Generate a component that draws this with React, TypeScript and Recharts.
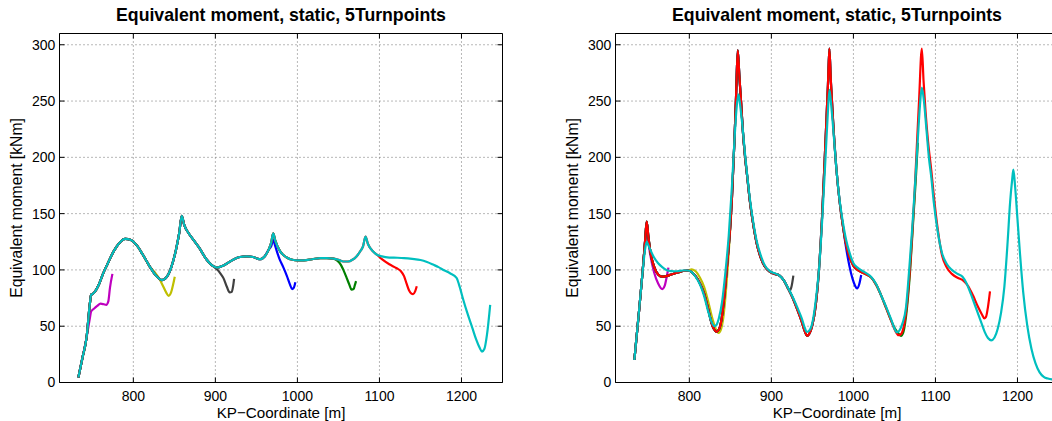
import { LineChart, Line, XAxis, YAxis, CartesianGrid } from "recharts";

type Pt = [number, number]; // [KP-coordinate m, equivalent moment kNm]

const TITLE = "Equivalent moment, static, 5Turnpoints";
const X_LABEL = "KP\u2212Coordinate [m]";
const Y_LABEL = "Equivalent moment [kNm]";

const X_TICKS = [800, 900, 1000, 1100, 1200];
const Y_TICKS = [0, 50, 100, 150, 200, 250, 300];
const X_DOMAIN: [number, number] = [710, 1250];
const Y_DOMAIN: [number, number] = [0, 310];

// MATLAB line colours
const MAGENTA = "#bf00bf";
const YELLOW = "#bfbf00";
const GREY = "#404040";
const BLUE = "#0000ff";
const GREEN = "#008000";
const RED = "#ff0000";
const CYAN = "#00bfbf";

// ---- left panel: the long (cyan) run, shorter runs branch off it ----
const leftCyan: Pt[] = [
  [733, 4.5], [738, 22], [743, 40], [747, 70], [748.5, 78], [750, 78.5], [753, 80.5], [758, 87],
  [763, 96.5], [769, 106], [776, 116.5], [783, 124], [790, 127.5], [797, 126.5], [804, 122],
  [812, 113], [820, 103], [828, 94.5], [835, 91], [841, 94], [847, 104], [852, 118], [856, 133],
  [859, 148], [862, 140], [867, 133], [873, 127], [880, 120], [889, 109.5], [896, 104], [902, 102],
  [910, 104], [918, 107.5], [924, 110], [930, 111.5], [938, 112], [946, 111.5], [951, 110],
  [955, 109.5], [960, 112], [965, 118], [968, 124], [970.5, 132.5], [973, 126], [979, 116.5],
  [987, 111], [994, 109], [1000, 108.5], [1008, 108.5], [1018, 109.5], [1028, 110.5], [1036, 110.5],
  [1044, 110], [1050, 109], [1056, 107.5], [1062, 107.5], [1067, 109], [1072, 112], [1077, 117],
  [1080, 121], [1083, 129.5], [1086, 123], [1092, 116.5], [1097, 113.5], [1103, 112], [1112, 111],
  [1122, 110.8], [1130, 110.5], [1140, 109.8], [1150, 108.8], [1158, 107], [1166, 104.5],
  [1172, 102.5], [1178, 100], [1186, 97], [1194, 93], [1197, 87], [1202, 74], [1207, 62],
  [1213, 49], [1218, 38], [1222, 31], [1225, 27.5], [1228, 30], [1231, 42], [1235, 69],
];
const leftMagentaTail: Pt[] = [
  [747, 57], [748.5, 63], [752, 65.5], [756, 68], [760, 70], [764, 69.5], [767, 69], [769.5, 72],
  [771.5, 84], [774.5, 96.5],
];
const leftYellowTail: Pt[] = [
  [826, 98], [831, 93], [836, 86], [840, 80], [843, 77], [846, 80], [848.5, 87], [850.5, 94],
];
const leftGreyTail: Pt[] = [
  [902, 100.5], [906, 97], [910, 92.5], [914, 85], [917.5, 80], [920, 80.5], [921.5, 85], [922.8, 92],
];
const leftBlueTail: Pt[] = [
  [968, 121], [970.5, 126.5], [973, 121], [978, 110], [983, 102], [987, 95], [991, 87], [993.5, 83],
  [995.5, 84], [997.5, 89],
];
const leftGreenTail: Pt[] = [
  [1049, 108], [1053, 104.5], [1056, 100], [1060, 93], [1063, 87.5], [1066, 82.5], [1068.5, 83],
  [1070, 86.5], [1071.5, 90],
];
const leftRedTail: Pt[] = [
  [1103, 109.5], [1112, 105], [1121, 101.5], [1126, 99], [1130, 94.5], [1133, 88], [1136, 82],
  [1139, 79], [1141, 78.5], [1143.5, 81], [1145.5, 85.5],
];

// ---- right panel: red and cyan runs, the others branch off red ----
const rightRed: Pt[] = [
  [733, 20], [738, 58], [743, 98], [746, 125], [748, 143], [750, 130], [753, 114], [757, 103],
  [762, 96], [767, 94], [772, 94.5], [778, 96], [785, 97.5], [792, 99], [798, 99.5], [803, 98],
  [808, 94], [813, 88], [818, 79], [823, 65], [827, 53], [830, 47.5], [833, 45], [836, 47], [839, 55],
  [842, 72], [846, 104], [849.6, 136], [852, 165], [855, 215], [857, 255], [859, 295], [861, 272],
  [863, 250], [865, 226], [868, 200], [871, 180], [874, 160], [878, 140], [882, 124], [887, 111],
  [892, 103], [898, 98.5], [904, 96.5], [910, 95], [915, 91], [920, 84], [926, 75], [932, 64],
  [937, 54], [941, 45], [943.5, 41.5], [946, 43], [950, 51], [954, 68], [958, 100], [962, 150],
  [966, 215], [969, 265], [970.7, 296.5], [972.5, 268], [975, 235], [979, 192], [983, 162],
  [987, 140], [991, 123], [995, 112], [1000, 103.5], [1005, 100], [1010, 98], [1016, 96], [1022, 93],
  [1028, 86.5], [1034, 77], [1040, 66], [1046, 55], [1051, 46], [1055, 42], [1058, 43], [1062, 52],
  [1066, 75], [1070, 112], [1074, 160], [1077, 205], [1080, 250], [1083.4, 296.5], [1085.5, 268],
  [1088, 240], [1091, 214], [1095, 188], [1098, 166], [1103, 135], [1108, 113], [1114, 102],
  [1120, 96.5], [1127, 93], [1134, 90.5], [1140, 85.5], [1146, 77], [1152, 67], [1157, 60],
  [1159.5, 57], [1161.5, 58], [1164, 67], [1166.5, 81],
];
const rightCyan: Pt[] = [
  [733, 20], [738, 58], [743, 98], [746, 118], [748, 125], [750, 122], [753, 117], [757, 111],
  [762, 106], [767, 102.5], [772, 100], [778, 99], [785, 98.8], [792, 99.5], [798, 99.5], [803, 98],
  [808, 93.5], [813, 87], [818, 77], [823, 63], [827, 54], [830.5, 50], [833, 51], [836, 57],
  [840, 72], [844, 98], [848, 130], [852, 175], [855, 215], [857.5, 243], [859.8, 256], [862, 246],
  [865, 226], [868, 202], [871, 181], [874, 162], [878, 142], [882, 126], [887, 113], [892, 104],
  [898, 99], [904, 97], [910, 95], [915, 91], [920, 84.5], [926, 76], [932, 66], [937, 57], [941, 48],
  [943, 45], [946, 46], [950, 53], [954, 72], [958, 100], [962, 145], [966, 200], [968.5, 235],
  [970.8, 260], [973, 246], [976, 220], [979, 192], [983, 163], [987, 143], [991, 127], [995, 116],
  [1000, 106], [1005, 102], [1010, 99.5], [1016, 97], [1022, 93.5], [1028, 87], [1034, 77],
  [1040, 67], [1046, 56], [1050, 48], [1053, 44.5], [1056, 46], [1060, 53], [1064, 66], [1068, 100],
  [1072, 140], [1075.5, 180], [1078.5, 216], [1081, 245], [1083.4, 262], [1086, 250], [1089, 225],
  [1092, 200], [1095, 182], [1098, 160], [1103, 133], [1108, 115], [1114, 105], [1120, 100],
  [1127, 96.5], [1133, 94], [1138, 88], [1143, 79], [1149, 67], [1155, 55], [1160, 45], [1164, 39.5],
  [1168, 37.5], [1172, 40], [1176, 48], [1180, 62], [1184, 85], [1188, 125], [1191, 160],
  [1193.5, 180], [1195, 189], [1197, 175], [1200, 145], [1203, 115], [1207, 80], [1212, 50],
  [1217, 30], [1222, 17], [1227, 9], [1232, 5], [1237, 3.5], [1242, 2.8], [1250, 2.5],
];
const rightMagentaTail: Pt[] = [
  [748, 135], [752, 115], [757, 98], [762, 88], [767, 83], [770, 86], [772.5, 94], [774.5, 102],
];
const rightYellowTail: Pt[] = [
  [803, 100.5], [808, 98.5], [813, 93], [818, 85], [823, 72], [828, 57], [832, 48], [835.5, 44],
  [838.5, 47], [841.5, 58], [844.5, 80], [848, 115], [851, 150],
];
const rightGreyTail: Pt[] = [[920, 84], [922.5, 81.5], [924.5, 85], [926.8, 95]];
const rightBlueTail: Pt[] = [
  [991, 120], [995, 104], [999, 92], [1002, 86], [1004.5, 83.5], [1007, 87], [1009.5, 95.5],
];
const rightGreenTail: Pt[] = [
  [1051, 47.5], [1055, 43.5], [1058, 41.5], [1061, 45], [1065, 64], [1069, 98], [1073, 145],
  [1076, 180], [1078.5, 213],
];

const upTo = (pts: Pt[], kp: number) => pts.filter(([x]) => x <= kp);

interface Series {
  name: string;
  color: string;
  pts: Pt[];
}

const leftSeries: Series[] = [
  { name: "m", color: MAGENTA, pts: [...upTo(leftCyan, 743), ...leftMagentaTail] },
  { name: "y", color: YELLOW, pts: [...upTo(leftCyan, 820), ...leftYellowTail] },
  { name: "k", color: GREY, pts: [...upTo(leftCyan, 896), ...leftGreyTail] },
  { name: "b", color: BLUE, pts: [...upTo(leftCyan, 965), ...leftBlueTail] },
  { name: "g", color: GREEN, pts: [...upTo(leftCyan, 1044), ...leftGreenTail] },
  { name: "r", color: RED, pts: [...upTo(leftCyan, 1097), ...leftRedTail] },
  { name: "c", color: CYAN, pts: leftCyan },
];

const rightSeries: Series[] = [
  { name: "m", color: MAGENTA, pts: [...upTo(rightRed, 746), ...rightMagentaTail] },
  { name: "y", color: YELLOW, pts: [...upTo(rightRed, 798), ...rightYellowTail] },
  { name: "k", color: GREY, pts: [...upTo(rightRed, 915), ...rightGreyTail] },
  { name: "b", color: BLUE, pts: [...upTo(rightRed, 987), ...rightBlueTail] },
  { name: "g", color: GREEN, pts: [...upTo(rightRed, 1046), ...rightGreenTail] },
  { name: "r", color: RED, pts: rightRed },
  { name: "c", color: CYAN, pts: rightCyan },
];

const toData = (pts: Pt[]) => pts.map(([kp, m]) => ({ kp, m }));

const W = 526;
const H = 421;
const PLOT_L = 59.5;
const PLOT_R = 502.5;
const PLOT_T = 33.5;
const PLOT_B = 382.5;
const CX = (PLOT_L + PLOT_R) / 2;
const CY = (PLOT_T + PLOT_B) / 2;

const tickFont = { fill: "#000", fontSize: 14 };
const noLabel = () => <g />;

function Panel({ left, series }: { left: number; series: Series[] }) {
  return (
    <div style={{ position: "absolute", left, top: 0, width: W, height: H }}>
      <LineChart width={W} height={H} margin={{ top: 0, right: 0, bottom: 0, left: 0 }}>
        <CartesianGrid stroke="#707070" strokeDasharray="1 3" />
        <XAxis
          type="number"
          dataKey="kp"
          domain={X_DOMAIN}
          ticks={X_TICKS}
          interval={0}
          allowDataOverflow
          height={H - PLOT_B}
          tickSize={-5}
          tickMargin={13.9}
          stroke="#000"
          tick={tickFont}
        />
        <XAxis
          xAxisId="top"
          orientation="top"
          type="number"
          dataKey="kp"
          domain={X_DOMAIN}
          ticks={X_TICKS}
          interval={0}
          allowDataOverflow
          height={PLOT_T}
          tickSize={-5}
          stroke="#000"
          tick={noLabel}
        />
        <YAxis
          type="number"
          domain={Y_DOMAIN}
          ticks={Y_TICKS}
          interval={0}
          allowDataOverflow
          width={PLOT_L}
          tickSize={-5}
          tickMargin={9.1}
          stroke="#000"
          tick={tickFont}
        />
        <YAxis
          yAxisId="right"
          orientation="right"
          type="number"
          domain={Y_DOMAIN}
          ticks={Y_TICKS}
          interval={0}
          allowDataOverflow
          width={W - PLOT_R}
          tickSize={-5}
          stroke="#000"
          tick={noLabel}
        />
        {series.map((s) => (
          <Line
            key={s.name}
            data={toData(s.pts)}
            dataKey="m"
            type="monotone"
            stroke={s.color}
            strokeWidth={2.2}
            dot={false}
            activeDot={false}
            isAnimationActive={false}
          />
        ))}
      </LineChart>
      <svg
        width={W}
        height={H}
        style={{ position: "absolute", left: 0, top: 0, pointerEvents: "none" }}
      >
        <text x={CX} y={21} textAnchor="middle" fontWeight="bold" fontSize={17.7} fill="#000">
          {TITLE}
        </text>
        <text x={CX} y={418.2} textAnchor="middle" fontSize={15.2} fill="#000">
          {X_LABEL}
        </text>
        <text
          transform={`translate(22.3, ${CY}) rotate(-90)`}
          textAnchor="middle"
          fontSize={15.7}
          fill="#000"
        >
          {Y_LABEL}
        </text>
      </svg>
    </div>
  );
}

export default function App() {
  return (
    <div
      style={{
        position: "absolute",
        left: 0,
        top: 0,
        width: 1052,
        height: 421,
        overflow: "hidden",
        background: "#fff",
        fontFamily: '"Liberation Sans", Arial, Helvetica, sans-serif',
      }}
    >
      <Panel left={0} series={leftSeries} />
      <Panel left={556} series={rightSeries} />
    </div>
  );
}
